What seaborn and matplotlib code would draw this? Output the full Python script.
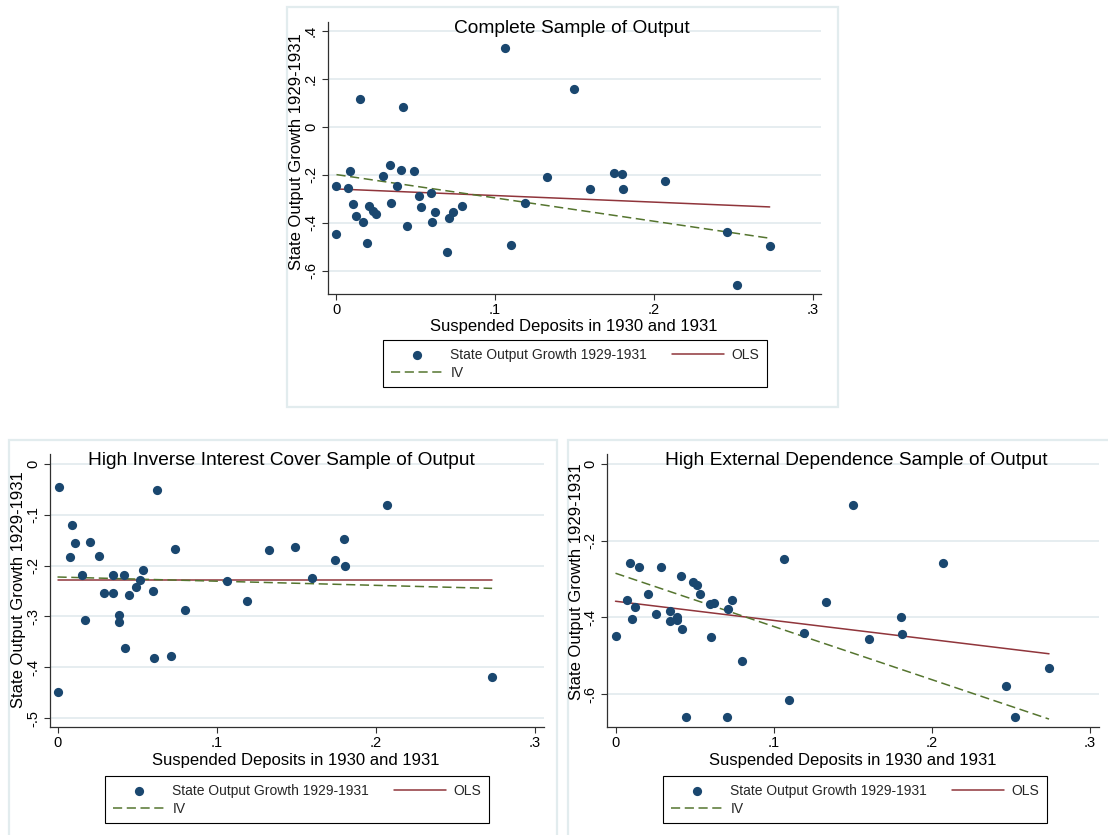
import matplotlib
matplotlib.use("Agg")
import matplotlib.pyplot as plt
import seaborn as sns
import numpy as np
from matplotlib.patches import Rectangle
from matplotlib.ticker import FuncFormatter

# ---------------- data ----------------
x_complete = [0.000, 0.000, 0.0072, 0.0088, 0.0106, 0.0121, 0.0148, 0.0166, 0.0190, 0.0202,
              0.0229, 0.0252, 0.0290, 0.0339, 0.0346, 0.0384, 0.0409, 0.0420, 0.0445, 0.0490,
              0.0517, 0.0533, 0.0596, 0.0604, 0.0620, 0.0699, 0.0708, 0.0735, 0.0793, 0.1065,
              0.1097, 0.1187, 0.1328, 0.1494, 0.1598, 0.1746, 0.1798, 0.1807, 0.2070, 0.2460,
              0.2524, 0.2730]
y_complete = [-0.245, -0.447, -0.254, -0.182, -0.323, -0.371, 0.119, -0.397, -0.484, -0.330,
              -0.352, -0.363, -0.206, -0.157, -0.316, -0.248, -0.178, 0.084, -0.415, -0.183,
              -0.290, -0.335, -0.277, -0.397, -0.357, -0.524, -0.379, -0.357, -0.330, 0.330,
              -0.492, -0.317, -0.207, 0.159, -0.261, -0.192, -0.197, -0.261, -0.226, -0.439,
              -0.662, -0.497]

x_iic = [0.0007, 0.0000, 0.0076, 0.0092, 0.0110, 0.0153, 0.0171, 0.0207, 0.0258, 0.0292,
         0.0346, 0.0351, 0.0389, 0.0389, 0.0416, 0.0422, 0.0449, 0.0492, 0.0519, 0.0537,
         0.0602, 0.0607, 0.0622, 0.0710, 0.0737, 0.0798, 0.1067, 0.1189, 0.1330, 0.1492,
         0.1598, 0.1746, 0.1798, 0.1807, 0.2067, 0.2730]
y_iic = [-0.046, -0.449, -0.183, -0.121, -0.156, -0.219, -0.308, -0.153, -0.181, -0.254,
         -0.254, -0.219, -0.298, -0.312, -0.219, -0.363, -0.257, -0.243, -0.229, -0.208,
         -0.251, -0.382, -0.052, -0.377, -0.168, -0.287, -0.230, -0.269, -0.170, -0.164,
         -0.224, -0.190, -0.148, -0.200, -0.080, -0.420]

x_ext = [0.0000, 0.0071, 0.0090, 0.0106, 0.0124, 0.0150, 0.0203, 0.0256, 0.0289, 0.0342,
         0.0344, 0.0386, 0.0386, 0.0413, 0.0419, 0.0448, 0.0488, 0.0517, 0.0536, 0.0596,
         0.0605, 0.0625, 0.0702, 0.0711, 0.0737, 0.0797, 0.1068, 0.1099, 0.1192, 0.1331,
         0.1499, 0.1600, 0.1804, 0.1812, 0.2073, 0.2466, 0.2528, 0.2740]
y_ext = [-0.448, -0.355, -0.257, -0.405, -0.372, -0.270, -0.339, -0.391, -0.270, -0.384,
         -0.409, -0.398, -0.408, -0.292, -0.431, -0.661, -0.308, -0.315, -0.339, -0.365,
         -0.450, -0.362, -0.661, -0.377, -0.355, -0.514, -0.247, -0.616, -0.442, -0.360,
         -0.106, -0.457, -0.400, -0.443, -0.258, -0.579, -0.661, -0.532]

# fitted lines: (intercept, slope)
ols_complete = (-0.259, -0.275)
iv_complete = (-0.199, -0.974)
ols_iic = (-0.228, 0.000)
iv_iic = (-0.2225, -0.082)
ols_ext = (-0.358, -0.500)
iv_ext = (-0.285, -1.388)

titles = ["Complete Sample of Output",
          "High Inverse Interest Cover Sample of Output",
          "High External Dependence Sample of Output"]
x_label = "Suspended Deposits in 1930 and 1931"
y_label = "State Output Growth 1929-1931"
legend_labels = ["State Output Growth 1929-1931", "OLS", "IV"]
x_ticks = [0, 0.1, 0.2, 0.3]
y_ticks_complete = [-0.6, -0.4, -0.2, 0, 0.2, 0.4]
y_ticks_iic = [-0.5, -0.4, -0.3, -0.2, -0.1, 0]
y_ticks_ext = [-0.6, -0.4, -0.2, 0]

# ---------------- style ----------------
sns.set_theme(style="white")
plt.rcParams["font.family"] = ["Liberation Sans", "DejaVu Sans"]

NAVY = "#1A476F"
MAROON = "#90353B"
GREEN = "#55752F"
GRID = "#E4ECEF"
FRAME = "#E2ECEE"
AXC = "#303030"

W, H = 1108, 835
fig = plt.figure(figsize=(W / 100, H / 100), dpi=100)


def fx(px):
    return px / W


def fy(py):
    return 1 - py / H


def stata_fmt(v, pos=None):
    if abs(v) < 1e-9:
        return "0"
    return f"{v:.1f}".replace("0.", ".")


def panel(frame, box, xlim, ylim, yticks, x, y, ols, iv, title, title_xy,
          xlabel_xy, ylabel_xy, legend_xy):
    fl, ft, fr, fb = frame
    fig.add_artist(Rectangle((fx(fl), fy(fb)), (fr - fl) / W, (fb - ft) / H,
                             transform=fig.transFigure, facecolor="white",
                             edgecolor=FRAME, lw=1.6, zorder=-5))
    l, t, r, b = box
    ax = fig.add_axes([fx(l), fy(b), (r - l) / W, (b - t) / H])
    ax.set_facecolor("none")

    sns.scatterplot(x=x, y=y, ax=ax, color=NAVY, s=44, linewidth=0,
                    label=legend_labels[0], zorder=3, clip_on=False)
    xs = np.array([min(x), max(x)])
    sns.lineplot(x=xs, y=ols[0] + ols[1] * xs, ax=ax, color=MAROON, lw=1.1,
                 label=legend_labels[1], zorder=2)
    sns.lineplot(x=xs, y=iv[0] + iv[1] * xs, ax=ax, color=GREEN, lw=1.1,
                 linestyle=(0, (6, 3)), label=legend_labels[2], zorder=2)

    ax.set_xlim(*xlim)
    ax.set_ylim(*ylim)
    ax.set_xticks(x_ticks)
    ax.set_yticks(yticks)
    ax.xaxis.set_major_formatter(FuncFormatter(stata_fmt))
    ax.yaxis.set_major_formatter(FuncFormatter(stata_fmt))
    ax.yaxis.grid(True, color=GRID, lw=1.3)
    ax.xaxis.grid(False)
    ax.set_axisbelow(True)
    for s in ["top", "right"]:
        ax.spines[s].set_visible(False)
    for s in ["left", "bottom"]:
        ax.spines[s].set_color(AXC)
        ax.spines[s].set_linewidth(0.9)
    ax.tick_params(axis="both", direction="out", length=4, width=0.8, color=AXC,
                   labelsize=10.5, labelcolor="black", left=True, bottom=True)
    ax.tick_params(axis="y", labelrotation=90, pad=3)
    ax.tick_params(axis="x", pad=2.5)
    for lbl in ax.get_yticklabels():
        lbl.set_va("center")
    ax.set_xlabel("")
    ax.set_ylabel("")

    fig.text(fx(title_xy[0]), fy(title_xy[1]), title, ha="center", va="baseline",
             fontsize=13.8, color="black")
    fig.text(fx(xlabel_xy[0]), fy(xlabel_xy[1]), x_label, ha="center", va="baseline",
             fontsize=12, color="black")
    fig.text(fx(ylabel_xy[0]), fy(ylabel_xy[1]), y_label, ha="center", va="center",
             rotation=90, fontsize=12, color="black")

    h, lab = ax.get_legend_handles_labels()
    leg = ax.legend([h[0], h[2], h[1]], [lab[0], lab[2], lab[1]], ncol=2,
                    loc="upper left", bbox_to_anchor=(fx(legend_xy[0]), fy(legend_xy[1])),
                    bbox_transform=fig.transFigure, frameon=True, fancybox=False,
                    edgecolor="black", framealpha=1, fontsize=10, handlelength=3.75,
                    handletextpad=0.55, columnspacing=1.77, borderpad=0.55,
                    labelspacing=0.3, borderaxespad=0)
    leg.get_frame().set_linewidth(0.8)
    return ax


panel((287, 7, 838, 407), (327.6, 22, 821.4, 293.5), (-0.0056, 0.3056), (-0.696, 0.439),
      y_ticks_complete, x_complete, y_complete, ols_complete, iv_complete, titles[0],
      (572, 33), (574, 331), (297, 151.5), (383, 340))

panel((9, 440, 557, 850), (49.7, 454, 544, 727), (-0.0049, 0.3056), (-0.5177, 0.0196),
      y_ticks_iic, x_iic, y_iic, ols_iic, iv_iic, titles[1],
      (281, 465), (296, 764.5), (19, 590), (105, 776))

panel((568, 440, 1120, 850), (606.8, 454, 1099, 727), (-0.0055, 0.3056), (-0.686, 0.026),
      y_ticks_ext, x_ext, y_ext, ols_ext, iv_ext, titles[2],
      (856, 465.5), (853, 764.5), (577, 581.5), (663, 776))

fig.savefig("out.png", dpi=100)
